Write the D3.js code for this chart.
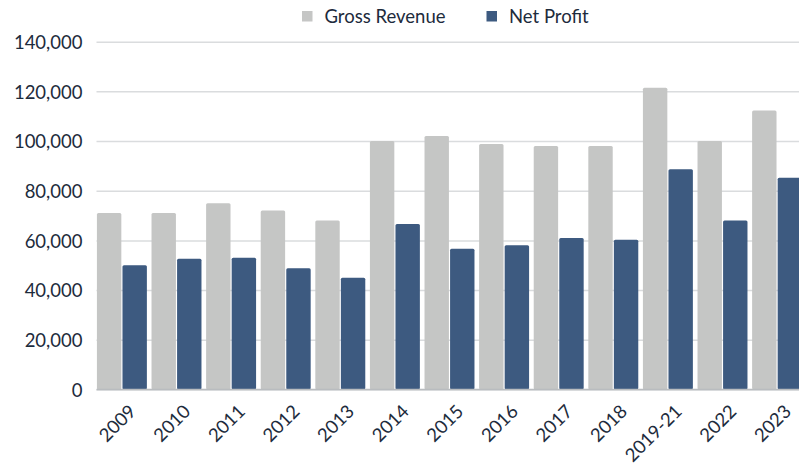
<!DOCTYPE html>
<html>
<head>
<meta charset="utf-8">
<script src="https://cdn.jsdelivr.net/npm/d3@7"></script>
<style>
  html, body { margin: 0; padding: 0; background: #fff; }
  svg { display: block; font-family: Lato, "Open Sans", sans-serif; }
</style>
</head>
<body>
<svg id="chart" width="799" height="466"></svg>
<script>
const categories = ["2009","2010","2011","2012","2013","2014","2015","2016","2017","2018","2019-21","2022","2023"];
const grossRevenue = [71000, 71000, 75000, 72000, 68000, 100000, 102000, 98800, 98000, 98000, 121500, 100000, 112300];
const netProfit = [50000, 52600, 53000, 48800, 45000, 66600, 56600, 58000, 61000, 60300, 88600, 68000, 85200];
const seriesNames = ["Gross Revenue", "Net Profit"];
const seriesColors = ["#c5c6c5", "#3d5a80"];
const yTicks = [0, 20000, 40000, 60000, 80000, 100000, 120000, 140000];

const svg = d3.select("#chart");
const textColor = "#1d2b3c";

const plotLeft = 96.5, step = 54.6;
const y = d3.scaleLinear().domain([0, 140000]).range([389.4, 41.7]);
const x0 = d3.scaleBand().domain(categories)
  .range([plotLeft - 1.9, plotLeft - 1.9 + categories.length * step])
  .paddingInner(0.085).paddingOuter(0.0425);
const x1 = d3.scaleBand().domain(seriesNames).range([0, x0.bandwidth()]).paddingInner(0.045);
const color = d3.scaleOrdinal().domain(seriesNames).range(seriesColors);

// gridlines
const yAxis = d3.axisLeft(y).tickValues(yTicks).tickSize(-(820 - plotLeft)).tickPadding(14)
  .tickFormat(d3.format(","));
const gy = svg.append("g").attr("transform", `translate(${plotLeft},0)`).call(yAxis);
gy.select(".domain").remove();
gy.selectAll(".tick line").attr("stroke", "#dadcde").attr("stroke-width", 1.5);
gy.selectAll(".tick text").attr("fill", textColor).style("font-size", "18.5px")
  .attr("font-family", "Lato, sans-serif").attr("dy", "0.36em");

// bars
const rows = categories.map((c, i) => ({cat: c, vals: [grossRevenue[i], netProfit[i]]}));
const groups = svg.append("g").selectAll("g").data(rows).join("g")
  .attr("transform", d => `translate(${x0(d.cat)},0)`);
groups.selectAll("rect").data(d => d.vals.map((v, k) => ({name: seriesNames[k], v})))
  .join("rect")
  .attr("x", d => x1(d.name))
  .attr("width", x1.bandwidth())
  .attr("y", d => y(d.v))
  .attr("height", d => y(0) - y(d.v))
  .attr("rx", 1.5)
  .attr("fill", d => color(d.name));

// baseline
svg.append("line").attr("x1", plotLeft).attr("x2", 820)
  .attr("y1", y(0)).attr("y2", y(0)).attr("stroke", "#b9bcbf").attr("stroke-width", 1.5);

// x axis labels
const xAxis = d3.axisBottom(x0).tickSize(0).tickPadding(0);
const gx = svg.append("g").attr("transform", `translate(0,${y(0)})`).call(xAxis);
gx.select(".domain").remove();
gx.selectAll(".tick text")
  .attr("fill", textColor).style("font-size", "18.5px").attr("font-family", "Lato, sans-serif")
  .attr("text-anchor", "end")
  .attr("transform", "translate(6,14) rotate(-45)")
  .attr("dy", "0.7em").attr("y", 0);

// legend
const legendItems = [{name: seriesNames[0], x: 302}, {name: seriesNames[1], x: 486.5}];
const lg = svg.append("g").selectAll("g").data(legendItems).join("g")
  .attr("transform", d => `translate(${d.x},11)`);
lg.append("rect").attr("width", 10.5).attr("height", 10.5).attr("fill", d => color(d.name));
lg.append("text").attr("x", 22.5).attr("y", 11.8).text(d => d.name)
  .attr("fill", textColor).style("font-size", "18.5px").attr("font-family", "Lato, sans-serif");
</script>
</body>
</html>
